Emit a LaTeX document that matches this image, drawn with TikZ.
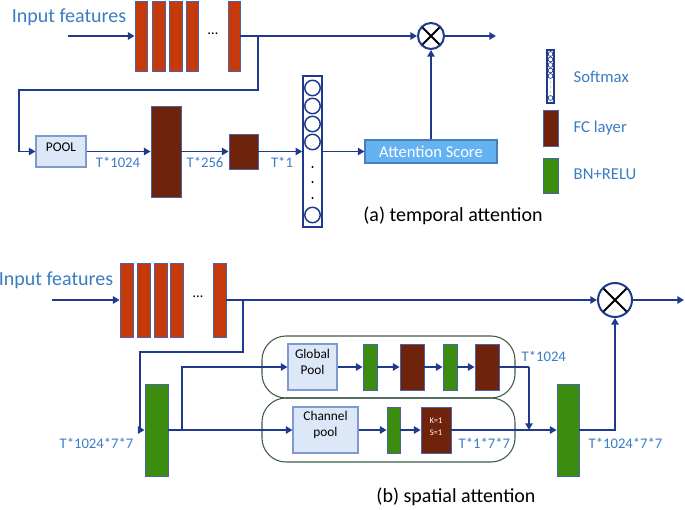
\documentclass[tikz,border=0pt]{standalone}
\usepackage{fontspec}
\setmainfont{Carlito}
\usetikzlibrary{arrows.meta,fit}

\definecolor{linecol}{HTML}{1F3A8C}
\definecolor{barline}{HTML}{4A62A8}
\definecolor{inred}{HTML}{C5390B}
\definecolor{fcbrown}{HTML}{6E230A}
\definecolor{bngreen}{HTML}{3C8C10}
\definecolor{txtblue}{HTML}{3A7CC4}
\definecolor{poolfill}{HTML}{DCE8F8}
\definecolor{poolline}{HTML}{7D9BD1}
\definecolor{attfill}{HTML}{63B2F2}
\definecolor{attline}{HTML}{4A7EBB}
\definecolor{frameline}{HTML}{3D5A4A}

\begin{document}
\begin{tikzpicture}[x=0.75pt,y=-0.75pt,
	wire/.style={draw=linecol, line width=1.3pt},
	arr/.style={wire, -{Triangle[length=5pt,width=5.5pt]}},
	inbar/.style={draw=barline, line width=0.6pt, fill=inred, inner sep=0pt, fit={#1}},
	fcbar/.style={draw=barline, line width=0.6pt, fill=fcbrown, inner sep=0pt, fit={#1}},
	bnbar/.style={draw=barline, line width=0.6pt, fill=bngreen, inner sep=0pt, fit={#1}},
	poolbox/.style={draw=poolline, line width=0.8pt, fill=poolfill, inner sep=0pt, fit={#1},
		align=center, font=\fontsize{10}{12}\selectfont},
	mult/.style={circle, draw=linecol, line width=1.5pt, inner sep=0pt, minimum size=#1,
		path picture={\draw[black, line width=1.5pt]
			(path picture bounding box.north west) -- (path picture bounding box.south east)
			(path picture bounding box.north east) -- (path picture bounding box.south west);}},
	dim/.style={text=txtblue, font=\fontsize{11}{13}\selectfont},
	big/.style={font=\fontsize{15}{18}\selectfont},
	legtxt/.style={text=txtblue, anchor=west, font=\fontsize{12.5}{15}\selectfont}
]
	\useasboundingbox (0,0) rectangle (685,510);
%	\draw[style=help lines, step=50] (0,0) grid (685,510);

	% (a) temporal attention
	\node[big, text=txtblue] (in1txt) at (69,17) {Input features};
	\coordinate (in1) at (68,36);
	\node[inbar={(135,1) (147,71)}] (a1) {};
	\node[inbar={(152,1) (165,71)}] (a2) {};
	\node[inbar={(169,1) (182,71)}] (a3) {};
	\node[inbar={(186,1) (198,71)}] (a4) {};
	\node[font=\fontsize{11}{13}\selectfont] (adots) at (213,34) {…};
	\node[inbar={(228,1) (240,71)}] (a5) {};
	\node[mult=19.5pt] (mul1) at (431,36) {};
	\coordinate (out1) at (496,36);
	\coordinate (br1) at (258,36);
	\coordinate (c1) at (19,90);

	\node[poolbox={(36,136) (86,167)}] (pool) {POOL};
	\node[fcbar={(151,106) (181,197)}] (fc1) {};
	\node[fcbar={(229,134) (258,169)}] (fc2) {};
	\node[draw=linecol, line width=1.2pt, fill=white, inner sep=0pt, fit={(303,76) (322,227)}] (soft) {};
	\foreach \y in {88,106,124,142,215}
		\draw[linecol, line width=1.1pt] (312.5,\y) circle (5.8pt);
	\foreach \y in {167,182,198}
		\fill[black] (312.5,\y) circle (0.9pt);
	\node[draw=attline, line width=0.8pt, fill=attfill, inner sep=0pt,
		minimum width=99pt, minimum height=17.25pt,
		text=white, font=\fontsize{12.4}{15}\selectfont] (att) at (431,151.5) {Attention Score};

	\node[dim] (d1) at (118,162) {T*1024};
	\node[dim] (d2) at (205,162) {T*256};
	\node[dim] (d3) at (282,162) {T*1};

	\draw[arr] (in1) -- (a1);
	\draw[arr] (a5) -- (mul1);
	\draw[arr] (mul1) -- (out1);
	\draw[arr] (br1) |- (c1) |- (pool);
	\draw[arr] (pool) -- (fc1);
	\draw[arr] (fc1) -- (fc2);
	\draw[arr] (fc2) -- (soft);
	\draw[arr] (soft) -- (att);
	\draw[arr] (att) -- (mul1);

	% legend
	\node[draw=linecol, line width=0.8pt, fill=white, inner sep=0pt, fit={(547,50) (554,103)}] (lsoft) {};
	\foreach \y in {54,59.5,65,70.5,76,98}
		\draw[linecol, line width=0.5pt] (550.5,\y) circle (1.8pt);
	\foreach \y in {82,87,92}
		\fill[black] (550.5,\y) circle (0.35pt);
	\node[fcbar={(543,110) (558,146)}] (lfc) {};
	\node[bnbar={(543,158) (558,193)}] (lbn) {};
	\node[legtxt] (lsofttxt) at (569,77) {Softmax};
	\node[legtxt] (lfctxt) at (569,128) {FC layer};
	\node[legtxt] (lbntxt) at (569,174) {BN+RELU};

	\node[big] (capa) at (453,216) {(a) temporal attention};

	% (b) spatial attention
	\draw[frameline, line width=0.8pt, rounded corners=18pt] (262,336) rectangle (515,398);
	\draw[frameline, line width=0.8pt, rounded corners=18pt] (262,398) rectangle (515,462);

	\node[big, text=txtblue] (in2txt) at (56,280) {Input features};
	\coordinate (in2) at (52,300);
	\node[inbar={(120,263) (133,337)}] (b1) {};
	\node[inbar={(137,263) (150,337)}] (b2) {};
	\node[inbar={(154,263) (167,337)}] (b3) {};
	\node[inbar={(170,263) (183,337)}] (b4) {};
	\node[font=\fontsize{11}{13}\selectfont] (bdots) at (198,297) {…};
	\node[inbar={(213,263) (226,337)}] (b5) {};
	\node[mult=25.5pt] (mul2) at (615,300) {};
	\coordinate (out2) at (684,300);
	\coordinate (br2) at (243,300);
	\coordinate (c2) at (140,352);

	\node[bnbar={(145,384) (168,476)}] (bn1) {};
	\coordinate (sp) at (182,430);
	\node[poolbox={(288,344) (337,390)}] (gpool) {Global\\Pool};
	\node[bnbar={(363,344) (377,390)}] (bn2) {};
	\node[fcbar={(400,344) (424,390)}] (fc3) {};
	\node[bnbar={(443,344) (457,390)}] (bn3) {};
	\node[fcbar={(475,344) (499,390)}] (fc4) {};
	\coordinate (c3) at (529,367);
	\coordinate (c4) at (529,430);

	\node[poolbox={(293,407) (358,453)}] (cpool) {Channel\\pool};
	\node[bnbar={(387,407) (400,453)}] (bn4) {};
	\node[fcbar={(421,407) (451,453)}, text=white, align=center,
		font=\fontsize{6.4}{9}\selectfont] (conv) {K=1\\S=1};
	\node[bnbar={(557,384) (579,476)}] (bn5) {};

	\node[dim, anchor=east] (d4) at (138,443) {T*1024*7*7};
	\node[dim, anchor=west] (d5) at (517,356) {T*1024};
	\node[dim, anchor=west] (d6) at (454,443) {T*1*7*7};
	\node[dim, anchor=west] (d7) at (584,443) {T*1024*7*7};

	\draw[arr] (in2) -- (b1);
	\draw[arr] (b5) -- (mul2);
	\draw[arr] (mul2) -- (out2);
	\draw[arr] (br2) |- (c2) |- (bn1);
	\draw[arr] (bn1) -- (cpool);
	\draw[arr] (sp) |- (gpool);
	\draw[arr] (gpool) -- (bn2);
	\draw[arr] (bn2) -- (fc3);
	\draw[arr] (fc3) -- (bn3);
	\draw[arr] (bn3) -- (fc4);
	\draw[wire] (fc4) -- (c3);
	\draw[arr] (c3) -- (c4);
	\draw[arr] (cpool) -- (bn4);
	\draw[arr] (bn4) -- (conv);
	\draw[arr] (conv) -- (bn5);
	\draw[arr] (bn5) -| (mul2);

	\node[big] (capb) at (456,497) {(b) spatial attention};

\end{tikzpicture}
\end{document}
